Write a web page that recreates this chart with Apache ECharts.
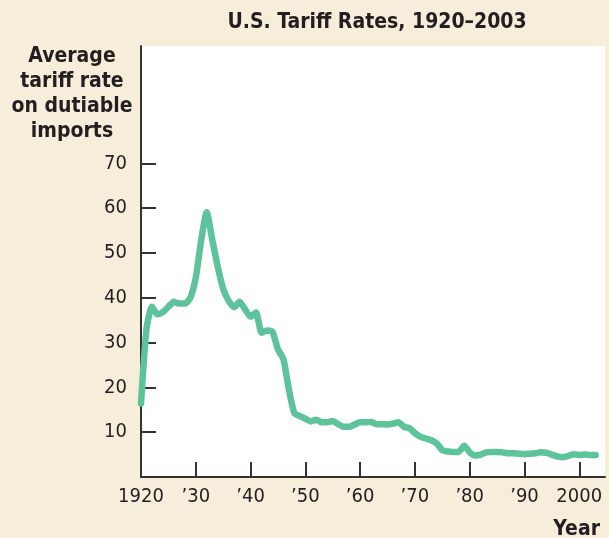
<!DOCTYPE html>
<html>
<head>
<meta charset="utf-8">
<script src="https://cdn.jsdelivr.net/npm/echarts@6/dist/echarts.min.js"></script>
<style>
  html, body { margin: 0; padding: 0; background: #f6eddb; }
  #chart { width: 609px; height: 538px; }
</style>
</head>
<body>
<div id="chart"></div>
<script>
// years 1920..2003
const years = []
for (let y = 1920; y <= 2003; y++) years.push(y)

const tariffRates = [
  16.4, 33.0, 38.0, 36.3, 36.8, 38.0, 39.1, 38.7, 38.7, 40.0,
  44.5, 53.0, 59.1, 53.0, 47.0, 42.0, 39.3, 37.9, 39.1, 37.4,
  35.8, 36.7, 32.2, 32.7, 32.4, 28.5, 26.3, 19.5, 14.2, 13.6,
  13.0, 12.4, 12.8, 12.2, 12.2, 12.5, 11.8, 11.2, 11.2, 11.7,
  12.2, 12.2, 12.3, 11.8, 11.8, 11.7, 11.9, 12.2, 11.2, 10.9,
  9.8, 9.0, 8.6, 8.2, 7.5, 6.0, 5.7, 5.6, 5.6, 7.0,
  5.5, 4.8, 5.0, 5.5, 5.6, 5.6, 5.5, 5.3, 5.3, 5.2,
  5.1, 5.2, 5.3, 5.5, 5.4, 5.0, 4.6, 4.4, 4.7, 5.1,
  4.9, 5.0, 4.9, 4.9
]

const yTicks = [10, 20, 30, 40, 50, 60, 70]
const xTicks = [1930, 1940, 1950, 1960, 1970, 1980, 1990, 2000]
const xLabels = [1920, 1930, 1940, 1950, 1960, 1970, 1980, 1990, 2000]

const font = "'Liberation Sans Narrow', 'DejaVu Sans Condensed', 'Noto Sans', sans-serif"
const ink = '#231f20'

const chart = echarts.init(document.getElementById('chart'))

chart.setOption({
  backgroundColor: '#f6eddb',
  animation: false,
  title: [{
    text: 'U.S. Tariff Rates, 1920–2003',
    left: 372,
    top: 7,
    textAlign: 'center',
    textStyle: { fontFamily: font, fontSize: 21, fontWeight: 'bold', color: ink }
  }, {
    text: 'Average\ntariff rate\non dutiable\nimports',
    left: 67,
    top: 39,
    textAlign: 'center',
    textStyle: { fontFamily: font, fontSize: 21, fontWeight: 'bold', color: ink, lineHeight: 25, align: 'center' }
  }, {
    text: 'Year',
    right: 4,
    top: 514,
    textStyle: { fontFamily: font, fontSize: 21, fontWeight: 'bold', color: ink }
  }],
  grid: {
    left: 141,
    right: 4,
    top: 46,
    bottom: 61,
    show: true,
    backgroundColor: '#ffffff',
    borderWidth: 0
  },
  xAxis: {
    type: 'value',
    min: 1920,
    max: 2004.7,
    axisLine: { lineStyle: { color: '#333', width: 2 } },
    axisTick: {
      inside: true,
      length: 15,
      customValues: xTicks,
      lineStyle: { color: '#333', width: 2 }
    },
    axisLabel: {
      customValues: xLabels,
      margin: 10,
      fontFamily: font,
      fontSize: 20,
      color: ink,
      formatter: v => (v === 1920 || v === 2000) ? String(v) : '’' + String(v).slice(2)
    },
    splitLine: { show: false }
  },
  yAxis: {
    type: 'value',
    min: 0,
    max: 96.2,
    axisLine: { show: true, lineStyle: { color: '#333', width: 2 } },
    axisTick: {
      show: true,
      inside: true,
      length: 15,
      customValues: yTicks,
      lineStyle: { color: '#333', width: 2 }
    },
    axisLabel: {
      customValues: yTicks,
      margin: 14,
      fontFamily: font,
      fontSize: 20,
      color: ink
    },
    splitLine: { show: false }
  },
  series: [{
    type: 'line',
    data: years.map((y, i) => [y, tariffRates[i]]),
    showSymbol: false,
    smooth: 0.2,
    lineStyle: { color: '#5cc39b', width: 6.5, cap: 'round', join: 'round' }
  }]
})
</script>
</body>
</html>
